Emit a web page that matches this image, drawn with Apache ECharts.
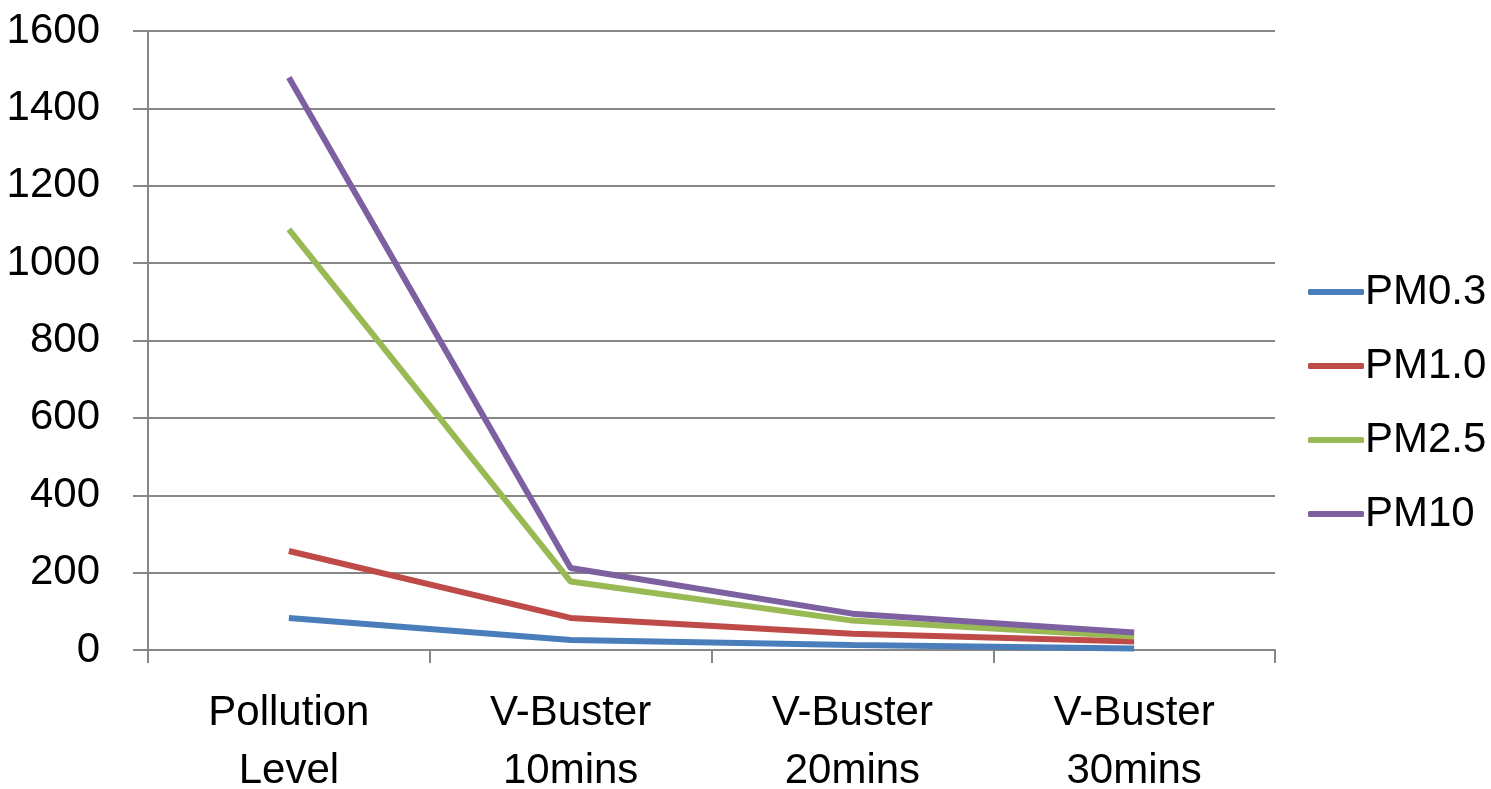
<!DOCTYPE html>
<html><head><meta charset="utf-8">
<script src="https://cdn.jsdelivr.net/npm/echarts@6/dist/echarts.min.js"></script>
<style>html,body{margin:0;padding:0;background:#fff;overflow:hidden}#c{width:1491px;height:789px}</style>
</head><body><div id="c"></div>
<script>
var categories = ['Pollution\nLevel', 'V-Buster\n10mins', 'V-Buster\n20mins', 'V-Buster\n30mins'];
var seriesNames = ['PM0.3', 'PM1.0', 'PM2.5', 'PM10'];
var pm03 = [83, 26, 13, 4];
var pm10 = [256, 83, 42, 22];
var pm25 = [1087, 177, 76, 35];
var pm100 = [1480, 212, 94, 45];
var yTicks = [0, 200, 400, 600, 800, 1000, 1200, 1400, 1600];
var colors = ['#4a7ebb', '#be4b48', '#98b954', '#7d60a0'];
var allData = [pm03, pm10, pm25, pm100];

var font = '"Liberation Sans", Arial, sans-serif';
var el = document.getElementById('c');
var chart = echarts.init(el, null, {width: 1491, height: 789});
chart.setOption({
  animation: false,
  color: colors,
  grid: {left: 148, right: 216, top: 31, bottom: 139, outerBoundsMode: 'none', containLabel: false},
  legend: {
    orient: 'vertical', left: 1303, top: 266,
    itemWidth: 56, itemHeight: 6, itemGap: 32, icon: 'roundRect',
    textStyle: {fontFamily: font, fontSize: 42, color: '#000', padding: [0,0,0,-4]},
    data: seriesNames
  },
  xAxis: {
    type: 'category', data: categories, boundaryGap: true,
    axisLine: {lineStyle: {color: '#868686', width: 2}},
    axisTick: {show: true, length: 13, lineStyle: {color: '#868686', width: 2}},
    axisLabel: {fontFamily: font, fontSize: 42, color: '#000', lineHeight: 58, margin: 34}
  },
  yAxis: {
    type: 'value', min: yTicks[0], max: yTicks[yTicks.length-1], interval: 200,
    axisLine: {show: true, lineStyle: {color: '#868686', width: 2}},
    axisTick: {show: true, length: 15, lineStyle: {color: '#868686', width: 2}},
    splitLine: {lineStyle: {color: '#868686', width: 2}},
    axisLabel: {fontFamily: font, fontSize: 42, color: '#000', margin: 48,
      formatter: function(v){ return String(v); }}
  },
  series: seriesNames.map(function(n, i){
    return {name: n, type: 'line', data: allData[i], symbol: 'none',
      lineStyle: {width: 6, color: colors[i]}, itemStyle: {color: colors[i]}};
  })
});
</script></body></html>
